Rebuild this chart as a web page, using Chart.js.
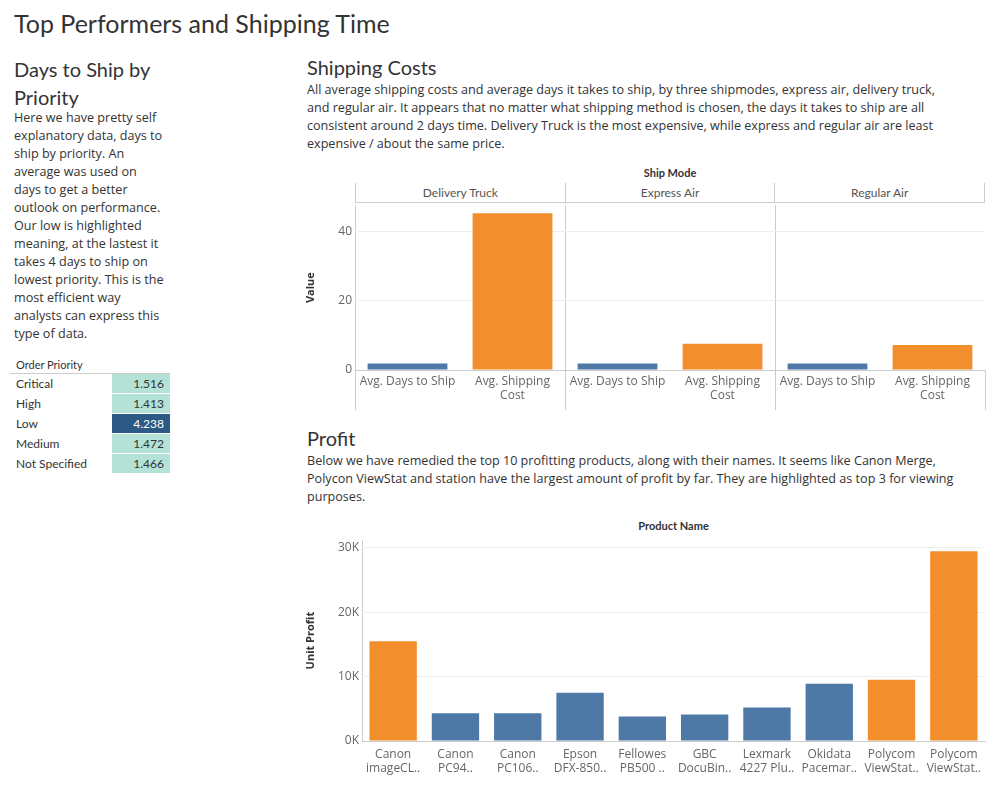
<!DOCTYPE html>
<html><head><meta charset="utf-8">
<script src="https://cdn.jsdelivr.net/npm/chart.js@4"></script>
<style>
body{margin:0;width:995px;height:795px;background:#fff;font-family:Lato,"Open Sans",sans-serif;color:#333;position:relative;overflow:hidden}
.abs{position:absolute}
h1{position:absolute;left:14px;top:8px;margin:0;font-weight:normal;font-size:25px;color:#333}
.h2{font-size:20px;color:#333}
.txt{font-size:13px;line-height:18px;color:#333;font-family:"Open Sans",sans-serif;font-size:12.6px}
table{border-collapse:collapse;font-size:12px}
td{height:19px;padding:0 6px;border-bottom:1px solid #fff}
.v{text-align:right;width:46px;background:#b5e2d7;color:#333}
.hdr{font-size:12px;color:#555;text-align:center}
.sep{position:absolute;width:1px;background:#ccc}
</style></head><body>
<h1>Top Performers and Shipping Time</h1>
<div class="abs h2" style="left:14px;top:55px;line-height:28px;width:170px">Days to Ship by Priority</div>
<div class="abs txt" style="left:14px;top:109px;width:152px">Here we have pretty self explanatory data, days to ship by priority. An average was used on days to get a better outlook on performance. Our low is highlighted meaning, at the lastest it takes 4 days to ship on lowest priority. This is the most efficient way analysts can express this type of data.</div>
<div class="abs" style="left:16px;top:358px;font-size:11px;color:#333">Order Priority</div>
<table id="tbl" class="abs" style="left:10px;top:373px;width:160px;border-top:1px solid #ccc;border-bottom:1px solid #999"></table>

<div class="abs h2" style="left:307px;top:55px">Shipping Costs</div>
<div class="abs txt" style="left:307px;top:81px;width:650px">All average shipping costs and average days it takes to ship, by three shipmodes, express air, delivery truck, and regular air. It appears that no matter what shipping method is chosen, the days it takes to ship are all consistent around 2 days time. Delivery Truck is the most expensive, while express and regular air are least expensive / about the same price.</div>
<div class="abs hdr" style="left:355px;top:166px;width:630px;font-weight:bold;color:#333;font-size:11px">Ship Mode</div>
<div id="modes" class="abs" style="left:355px;top:183px;width:630px;height:19px;border-bottom:1px solid #ccc;display:flex"></div>
<div class="sep" style="left:355px;top:370px;height:40px"></div>
<div class="sep" style="left:565px;top:370px;height:40px"></div>
<div class="sep" style="left:775px;top:370px;height:40px"></div>
<div class="sep" style="left:985px;top:370px;height:40px"></div>
<div class="abs" style="left:300px;top:195px;width:690px;height:215px"><canvas id="c1"></canvas></div>

<div class="abs h2" style="left:307px;top:426px">Profit</div>
<div class="abs txt" style="left:307px;top:452px;width:660px">Below we have remedied the top 10 profitting products, along with their names. It seems like Canon Merge, Polycon ViewStat and station have the largest amount of profit by far. They are highlighted as top 3 for viewing purposes.</div>
<div class="abs hdr" style="left:362px;top:519px;width:623px;font-weight:bold;color:#333;font-size:11px">Product Name</div>
<div class="abs" style="left:300px;top:530px;width:690px;height:256px"><canvas id="c2"></canvas></div>
<script>
const priorities = ["Critical","High","Low","Medium","Not Specified"];
const daysToShip = [1.516,1.413,4.238,1.472,1.466];

const shipModes = ["Delivery Truck","Express Air","Regular Air"];
const measures = [["Avg. Days to Ship"],["Avg. Shipping","Cost"]];
const avgDays = [1.9,1.9,1.9];
const avgCost = [45.4,7.6,7.2];
const valueTicks = [0,20,40];

const products = [["Canon","imageCL.."],["Canon","PC94.."],["Canon","PC106.."],["Epson","DFX-850.."],["Fellowes","PB500 .."],["GBC","DocuBin.."],["Lexmark","4227 Plu.."],["Okidata","Pacemar.."],["Polycom","ViewStat.."],["Polycom","ViewStat.."]];
const unitProfit = [15500,4300,4300,7500,3800,4100,5200,8900,9500,29500];
const top3 = [true,false,false,false,false,false,false,false,true,true];
const profitTicks = [0,10000,20000,30000];

const BLUE = "#4e79a7", ORANGE = "#f28e2b";

// table
const tbl = document.getElementById("tbl");
priorities.forEach((p, i) => {
    const low = daysToShip[i] === Math.max(...daysToShip);
    tbl.insertAdjacentHTML("beforeend",
        `<tr><td>${p}</td><td class="v" style="${low ? 'background:#2c5985;color:#fff' : ''}">${daysToShip[i].toFixed(3)}</td></tr>`);
});
const modes = document.getElementById("modes");
shipModes.forEach((m, i) => {
    modes.insertAdjacentHTML("beforeend",
        `<div class="hdr" style="flex:1;line-height:19px;border-left:1px solid #ccc;${i == 2 ? 'border-right:1px solid #ccc;' : ''}">${m}</div>`);
});

Chart.defaults.font.family = "'Open Sans', Lato, sans-serif";
Chart.defaults.color = "#666";

const labels1 = [], vals1 = [], cols1 = [];
shipModes.forEach((m, i) => {
    labels1.push(measures[0], measures[1]);
    vals1.push(avgDays[i], avgCost[i]);
    cols1.push(BLUE, ORANGE);
});

new Chart(document.getElementById("c1"), {
    type: "bar",
    data: { labels: labels1, datasets: [{ data: vals1, backgroundColor: cols1, categoryPercentage: 0.76, barPercentage: 1 }] },
    options: {
        responsive: true, maintainAspectRatio: false, animation: false,
        layout: { padding: { top: 8, right: 5 } },
        plugins: { legend: { display: false }, tooltip: { enabled: false } },
        scales: {
            x: {
                afterFit: s => { s.height = 40; },
                grid: { offset: true, color: c => (c.index % 2 === 0 || c.index === labels1.length) ? "#ccc" : "transparent", drawTicks: false },
                border: { color: "#ccc" },
                ticks: { font: { size: 12 }, color: "#666", maxRotation: 0, autoSkip: false, padding: 4 }
            },
            y: {
                min: 0, max: 47.7,
                afterFit: s => { s.width = 55; },
                afterBuildTicks: s => { s.ticks = valueTicks.map(v => ({ value: v })); },
                title: { display: true, text: "Value", color: "#333", font: { size: 11, weight: "bold" } },
                ticks: { color: "#666", font: { size: 12 } },
                grid: { color: "#eee", drawTicks: false },
                border: { display: false }
            }
        }
    }
});

new Chart(document.getElementById("c2"), {
    type: "bar",
    data: { labels: products, datasets: [{ data: unitProfit, backgroundColor: top3.map(t => t ? ORANGE : BLUE), categoryPercentage: 0.76, barPercentage: 1 }] },
    options: {
        responsive: true, maintainAspectRatio: false, animation: false,
        layout: { padding: { top: 8, right: 5 } },
        plugins: { legend: { display: false }, tooltip: { enabled: false } },
        scales: {
            x: {
                afterFit: s => { s.height = 45; },
                grid: { offset: true, color: c => c.index === 0 ? "#ccc" : "transparent", drawTicks: false },
                border: { color: "#ccc" },
                ticks: { font: { size: 12 }, color: "#666", maxRotation: 0, autoSkip: false, padding: 6 }
            },
            y: {
                min: 0, max: 31200,
                afterFit: s => { s.width = 62; },
                afterBuildTicks: s => { s.ticks = profitTicks.map(v => ({ value: v })); },
                title: { display: true, text: "Unit Profit", color: "#333", font: { size: 11, weight: "bold" } },
                ticks: { color: "#666", font: { size: 12 }, callback: v => (v / 1000) + "K" },
                grid: { color: "#eee", drawTicks: false },
                border: { display: false }
            }
        }
    }
});
</script>
</body></html>
